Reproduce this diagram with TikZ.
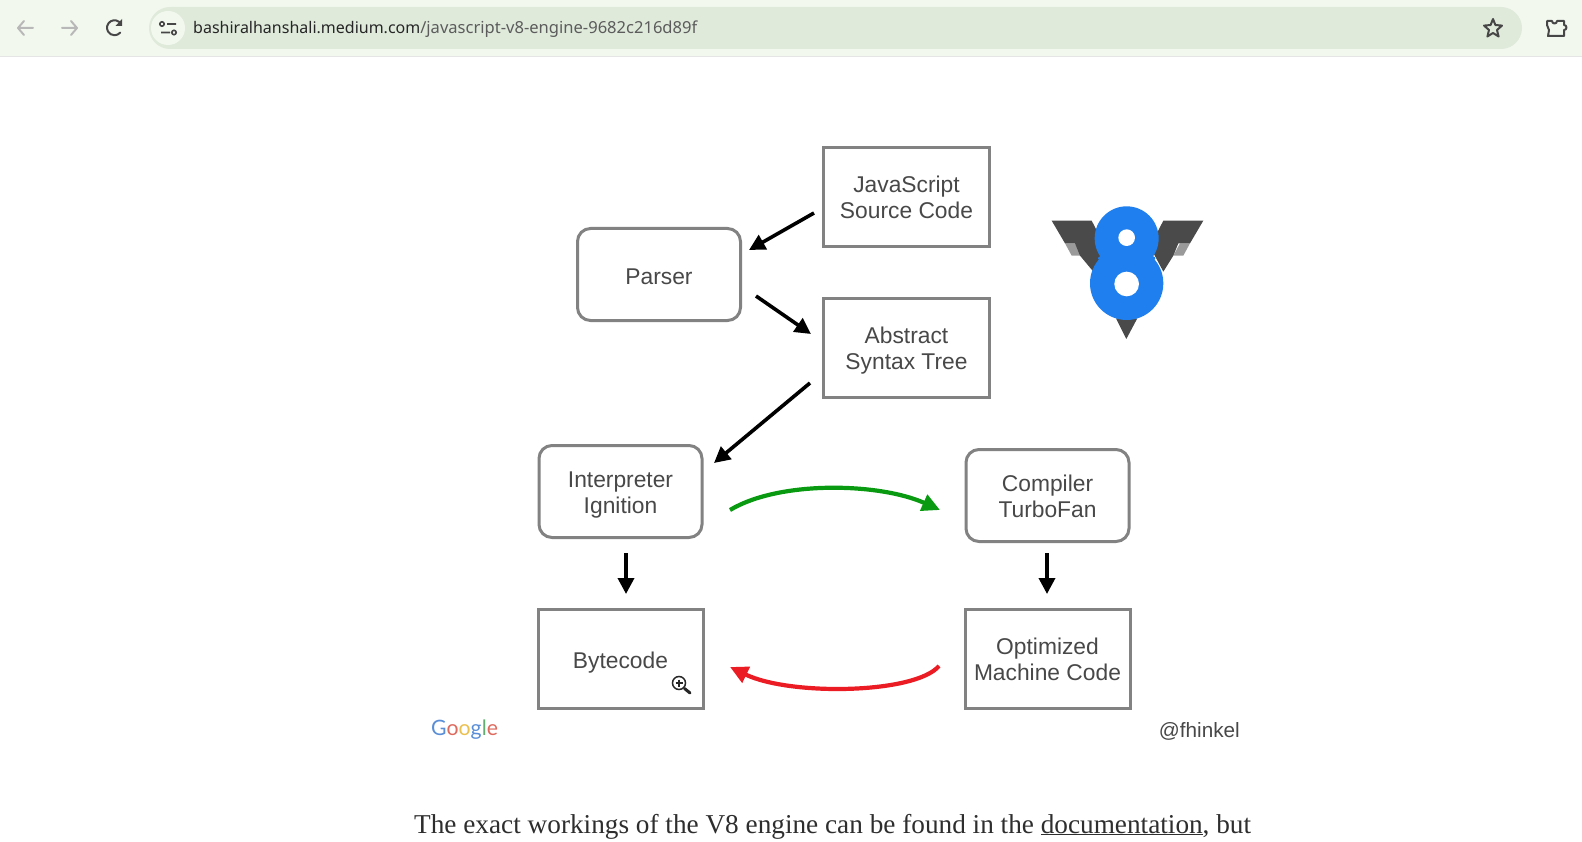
\documentclass[tikz,border=0pt]{standalone}
\usepackage{fontspec}
\setmainfont{Liberation Sans}
\newfontfamily\serifbody{Liberation Serif}
\newfontfamily\urlfont{Noto Sans}
\newfontfamily\googlefont{Lato}
\usetikzlibrary{arrows.meta}
\definecolor{barbg}{HTML}{F2F8EE}
\definecolor{pillbg}{HTML}{DFEADB}
\definecolor{boxline}{HTML}{828282}
\definecolor{labeltext}{HTML}{484848}
\definecolor{vblue}{HTML}{1F7FEE}
\definecolor{vdark}{HTML}{4A4A4A}
\definecolor{vgrey}{HTML}{9A9A9A}
\definecolor{gblue}{HTML}{5A8FD8}
\definecolor{gred}{HTML}{DE6A5E}
\definecolor{gyellow}{HTML}{EBC04E}
\definecolor{ggreen}{HTML}{62AE72}
\definecolor{arrowgreen}{HTML}{0A9A12}
\definecolor{arrowred}{HTML}{EC1C24}
\newcommand{\boxlabel}[2]{\raisebox{#1}[0pt][0pt]{\begin{tabular}{@{}c@{}}#2\end{tabular}}}
\tikzset{
  labelbox/.style={draw=boxline,line width=3pt,fill=white,align=center,inner sep=0pt,
    text=labeltext,font=\fontsize{22.8}{26.3}\selectfont,anchor=center},
  squarebox/.style={labelbox},
  roundbox/.style={labelbox,rounded corners=13pt},
  flow/.style={line width=3.6pt,black,-{Triangle[length=16pt,width=16pt]}},
  loopgreen/.style={line width=4.2pt,arrowgreen,-{Triangle[length=18pt,width=17pt]}},
  loopred/.style={line width=4.2pt,arrowred,-{Triangle[length=18pt,width=17pt]}},
  icon/.style={line width=2pt,line cap=round,line join=round},
}
\begin{document}
\begin{tikzpicture}[x=1pt,y=-1pt]
\useasboundingbox (0,0) rectangle (1582,842);
\fill[white] (0,0) rectangle (1582,842);
% browser bar
\fill[barbg] (0,0) rectangle (1582,56);
\fill[black!10] (0,56) rectangle (1582,57.5);
\fill[pillbg,rounded corners=21pt] (149,7) rectangle (1522,49);
\fill[barbg] (168,28) circle (17);
\draw[icon,black!28] (33,28) -- (18,28) (24,21) -- (18,28) -- (24,35);
\draw[icon,black!28] (62,28) -- (77,28) (71,21) -- (77,28) -- (71,35);
\draw[icon,black!72] (121,24) arc[start angle=-30,end angle=-320,radius=7.5];
\fill[black!72] (122,19) -- (122,26) -- (115.5,26) -- cycle;
\draw[line width=1.6pt,black!72] (162,24) circle (2.2) (167,24) -- (176,24) (161,32.5) -- (170,32.5) (174,32.5) circle (2.2);
\node[anchor=base west,inner sep=0pt,font=\urlfont] (url) at (193,34) {\textcolor{black!85}{\fontsize{16}{18}\selectfont bashiralhanshali.medium.com}\textcolor{black!64}{\fontsize{16.55}{18}\selectfont /javascript-v8-engine-9682c216d89f}};
\draw[line width=2pt,line join=round,black!72] (1493,19) -- (1495.4,25) -- (1502,25.6) -- (1497,30) -- (1498.6,36.5) -- (1493,33) -- (1487.4,36.5) -- (1489,30) -- (1484,25.6) -- (1490.6,25) -- cycle;
\draw[line width=2pt,line join=round,black!72] (1547,21) -- (1552,21) arc[start angle=180,end angle=0,radius=2.5] -- (1564,21) -- (1564,25) arc[start angle=-90,end angle=90,radius=2.5] -- (1564,36) -- (1548,36) -- (1549,30) -- (1547,25) -- cycle;
% boxes
\node[squarebox,minimum width=166pt,minimum height=99pt] (js) at (906.5,197) {\boxlabel{-8.7pt}{JavaScript\\Source Code}};
\node[roundbox,minimum width=163pt,minimum height=92pt] (parser) at (659,274.5) {\boxlabel{-9.7pt}{Parser}};
\node[squarebox,minimum width=166pt,minimum height=99pt] (ast) at (906.5,348) {\boxlabel{-8.7pt}{Abstract\\Syntax Tree}};
\node[roundbox,minimum width=163pt,minimum height=92pt] (interp) at (620.5,491.5) {\boxlabel{-8.7pt}{Interpreter\\Ignition}};
\node[roundbox,minimum width=163pt,minimum height=92pt] (comp) at (1047.5,495.5) {\boxlabel{-8.7pt}{Compiler\\TurboFan}};
\node[squarebox,minimum width=165pt,minimum height=99pt] (byte) at (620.5,659) {\boxlabel{-9.7pt}{Bytecode}};
\node[squarebox,minimum width=165pt,minimum height=99pt] (opt) at (1047.5,659) {\boxlabel{-8.7pt}{Optimized\\Machine Code}};
% connector ends
\coordinate (jsout) at (814,213);
\coordinate (parserin) at (749,250);
\coordinate (parserout) at (756,296);
\coordinate (astin) at (811,334);
\coordinate (astout) at (810,383);
\coordinate (interpin) at (714,463);
\coordinate (interpout) at (626,553);
\coordinate (bytein) at (626,594);
\coordinate (compout) at (1047,553);
\coordinate (optin) at (1047,594);
\coordinate (gstart) at (730,510);
\coordinate (gend) at (940,510);
\coordinate (rstart) at (939,666);
\coordinate (rend) at (730,667);
\draw[flow] (jsout) -- (parserin);
\draw[flow] (parserout) -- (astin);
\draw[flow] (astout) -- (interpin);
\draw[flow] (interpout) -- (bytein);
\draw[flow] (compout) -- (optin);
\draw[loopgreen] (gstart) .. controls (780,480) and (880,483) .. (gend);
\draw[loopred] (rstart) .. controls (915,694) and (790,696) .. (rend);
% V8 logo
\begin{scope}[shift={(1030,190)},x=0.3333pt,y=-0.3333pt]
\fill[vgrey] (105,160) -- (135,160) -- (155,197) -- (125,197) -- cycle;
\fill[vgrey] (480,160) -- (450,160) -- (430,197) -- (460,197) -- cycle;
\fill[vdark] (65,92) -- (185,92) -- (225,170) -- (190,245) -- (150,197) -- (135,160) -- (105,160) -- cycle;
\fill[vdark] (520,92) -- (400,92) -- (360,170) -- (400,245) -- (430,197) -- (445,160) -- (480,160) -- cycle;
\fill[vdark] (258,385) -- (322,385) -- (289,447) -- cycle;
\fill[vblue] (290,145) circle[radius=96];
\fill[vblue] (290,280) circle[radius=110];
\fill[vblue] (290,205) ellipse[x radius=86,y radius=16];
\fill[white] (290,143) circle[radius=25];
\fill[white] (290,282) circle[radius=37];
\end{scope}
% cursor magnifier
\draw[line width=1.5pt,black!85,fill=white] (679,683) circle (6.5);
\draw[line width=1.3pt,black!85] (675.5,683) -- (682.5,683) (679,679.5) -- (679,686.5);
\draw[line width=3pt,black!85,line cap=round] (684.5,688.5) -- (690,693);
% captions
\node[anchor=base west,inner sep=0pt,font=\googlefont\fontsize{21.2}{26}\selectfont] (google) at (431,735) {\textcolor{gblue}{G}\textcolor{gred}{o}\textcolor{gyellow}{o}\textcolor{gblue}{g}\textcolor{ggreen}{l}\textcolor{gred}{e}};
\node[anchor=base east,inner sep=0pt,text=labeltext,font=\fontsize{20.7}{24}\selectfont] (handle) at (1240,737) {@fhinkel};
\node[anchor=base west,inner sep=0pt,text=black!82,font=\serifbody\fontsize{27.25}{30}\selectfont] (body) at (414,833) {The exact workings of the V8 engine can be found in the \underline{documentation}, but};
\end{tikzpicture}
\end{document}
